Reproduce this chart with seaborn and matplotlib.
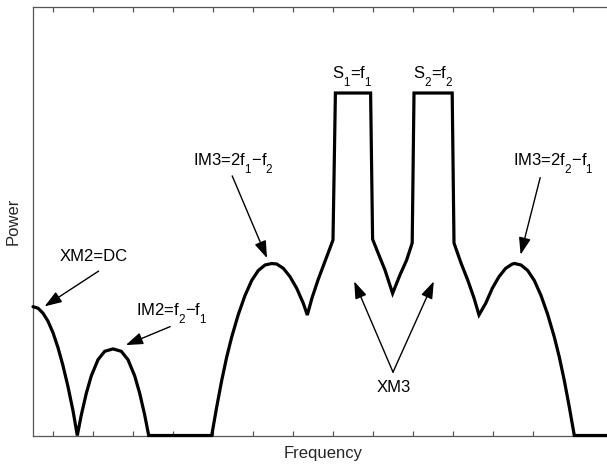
import matplotlib
matplotlib.use("Agg")
import matplotlib.pyplot as plt
import matplotlib._mathtext as mathtext_internals
import pandas as pd
import seaborn as sns

# Sketched two-tone spectrum: DC / IM2 lobes, IM3 lobes and the two carriers
freq = [-0.5, -0.375, -0.25, -0.125, 0.0, 0.125, 0.25, 0.375, 0.5, 0.6075,
        0.7075, 0.8325, 0.9575, 1.125, 1.2925, 1.5, 1.7075, 1.875, 2.0425, 2.1675,
        2.2925, 2.3925,
        3.9675, 4.0925, 4.2175, 4.3425, 4.4675, 4.6325, 4.8, 4.9675, 5.1325, 5.3,
        5.4675, 5.5925, 5.7575, 5.925, 6.0925, 6.2575, 6.3575,
        6.475, 6.625, 6.8125, 7.0,
        7.06, 7.94,
        7.99, 8.13, 8.3, 8.49, 8.675, 8.84, 8.98,
        9.025, 9.98,
        10.025, 10.2, 10.3675, 10.525, 10.65,
        10.8175, 10.9825, 11.15, 11.3175, 11.4825, 11.54,
        11.7, 11.8675, 12.0325, 12.2, 12.3675, 12.5325, 12.6575, 12.7825,
        12.9075, 13.0325, 14.0]
power = [0.3761, 0.3717, 0.3571, 0.3337, 0.3002, 0.2564, 0.2038, 0.1425, 0.0724, 0.0,
         0.0599, 0.1232, 0.1740, 0.2213, 0.2458, 0.2528, 0.2458, 0.2213, 0.1740, 0.1232,
         0.0599, 0.0,
         0.0, 0.0832, 0.1606, 0.2292, 0.2876, 0.3533, 0.4088, 0.4526, 0.4818, 0.4978,
         0.5022, 0.5007, 0.4882, 0.4637, 0.4298, 0.3860, 0.3518,
         0.4015, 0.454, 0.5124, 0.5708,
         1.0, 1.0,
         0.573, 0.532, 0.483, 0.415, 0.469, 0.512, 0.562,
         1.0, 1.0,
         0.562, 0.5036, 0.454, 0.4015, 0.352,
         0.3860, 0.4298, 0.4637, 0.4882, 0.5007, 0.5022,
         0.4978, 0.4818, 0.4526, 0.4088, 0.3533, 0.2876, 0.2292, 0.1606,
         0.0832, 0.0, 0.0]

# label text, (x, y) of label baseline centre
labels = [
    ("XM2=DC", (1.01, 0.509)),
    ("IM2=f$_2$\u2212f$_1$", (2.98, 0.349)),
    ("IM3=2f$_1$\u2212f$_2$", (4.51, 0.787)),
    ("IM3=2f$_2$\u2212f$_1$", (12.51, 0.787)),
    ("S$_1$=f$_1$", (7.49, 1.040)),
    ("S$_2$=f$_2$", (9.51, 1.040)),
    ("XM3", (8.53, 0.127)),
]
# arrows: (tail, head)
arrows = [
    ((1.14, 0.480), (-0.21, 0.377)),
    ((2.93, 0.318), (1.82, 0.264)),
    ((4.48, 0.758), (5.35, 0.518)),
    ((12.18, 0.753), (11.69, 0.528)),
    ((8.50, 0.185), (7.53, 0.450)),
    ((8.50, 0.185), (9.52, 0.450)),
]

sns.set_theme(style="white")
plt.rcParams["font.family"] = ["Liberation Sans", "DejaVu Sans"]
plt.rcParams["mathtext.fontset"] = "custom"
plt.rcParams["mathtext.rm"] = "Liberation Sans"
plt.rcParams["mathtext.it"] = "Liberation Sans"
plt.rcParams["mathtext.default"] = "regular"
# hang the subscripts lower below the baseline
mathtext_internals.FontConstantsBase.sub1 = 0.9

fig = plt.figure(figsize=(6.07, 4.66), dpi=100)
ax = fig.add_axes([33 / 607, 30.5 / 466, 580 / 607, 429 / 466])

df = pd.DataFrame({"Frequency": freq, "Power": power})
sns.lineplot(data=df, x="Frequency", y="Power", sort=False, estimator=None,
             color="black", linewidth=2.3, ax=ax, clip_on=False, zorder=5,
             solid_joinstyle="miter")

ax.set_xlim(-0.5, 14)
ax.set_ylim(0, 1.2526)
ax.set_xticks(range(0, 15))
ax.set_xticklabels([])
ax.set_yticks([])
ax.tick_params(axis="x", direction="in", length=3.6, width=0.9,
               top=True, bottom=True, color="#555555")
for side in ["left", "top", "bottom", "right"]:
    ax.spines[side].set_color("#555555")
    ax.spines[side].set_linewidth(0.9)

ax.set_xlabel("Frequency", fontsize=12)
ax.set_ylabel("Power", fontsize=12)
ax.xaxis.set_label_coords(0.5, -0.0245)
ax.yaxis.set_label_coords(-0.0216, 0.5)

for text, (x, y) in labels:
    ax.text(x, y, text, fontsize=12, ha="center", va="baseline", color="black")

for tail, head in arrows:
    ax.annotate("", xy=head, xytext=tail,
                arrowprops=dict(arrowstyle="-|>,head_length=0.8,head_width=0.28",
                                color="black", lw=1.0, mutation_scale=13,
                                shrinkA=0, shrinkB=0))

fig.savefig("out.png", dpi=100)
